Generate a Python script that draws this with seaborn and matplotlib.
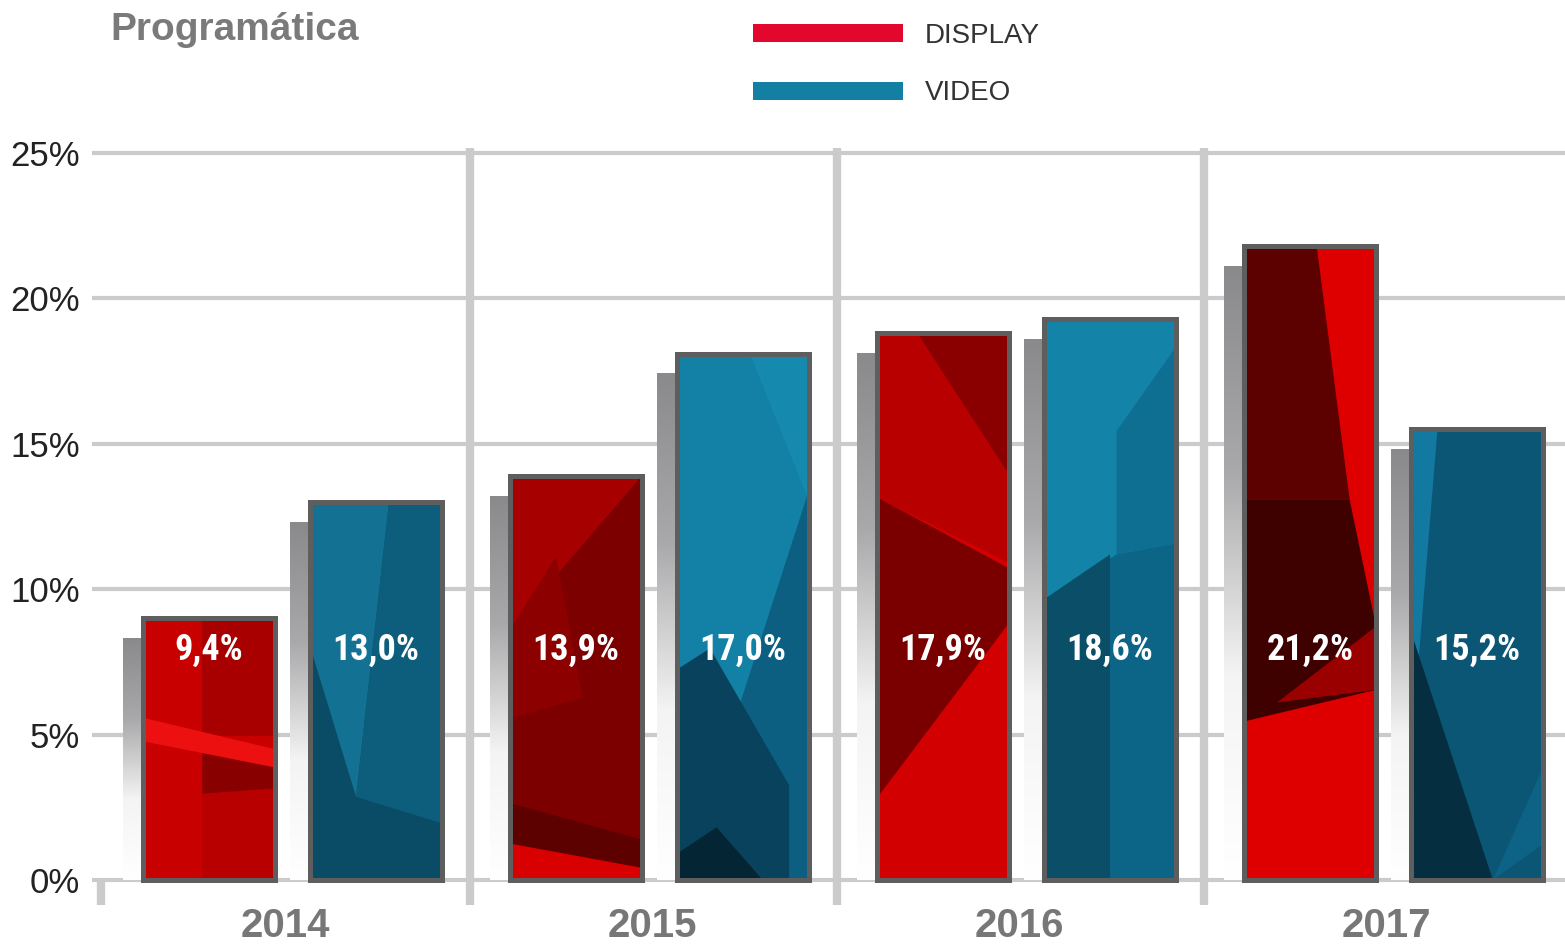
import numpy as np
import pandas as pd
import matplotlib
matplotlib.use("Agg")
import matplotlib.pyplot as plt
import matplotlib.transforms as mtransforms
from matplotlib import font_manager
from matplotlib.patches import Patch, Polygon, Rectangle
from matplotlib.colors import LinearSegmentedColormap
import seaborn as sns

# ---------------- data ----------------
years = ["2014", "2015", "2016", "2017"]
series = ["DISPLAY", "VIDEO"]
display_values = [9.0, 13.9, 18.8, 21.8]
video_values = [13.0, 18.1, 19.3, 15.5]
display_labels = ["9,4%", "13,9%", "17,9%", "21,2%"]
video_labels = ["13,0%", "17,0%", "18,6%", "15,2%"]
y_ticks = [0, 5, 10, 15, 20, 25]
y_tick_labels = ["0%", "5%", "10%", "15%", "20%", "25%"]
title = "Programática"

df = pd.DataFrame({
    "year": years * 2,
    "serie": ["DISPLAY"] * 4 + ["VIDEO"] * 4,
    "value": display_values + video_values,
})
labels = {("DISPLAY", y): l for y, l in zip(years, display_labels)}
labels.update({("VIDEO", y): l for y, l in zip(years, video_labels)})

# ---------------- style ----------------
sns.set_theme(style="white")
plt.rcParams["font.family"] = ["Liberation Sans", "DejaVu Sans"]

# pick a condensed bold face for the value labels if one is installed
entries = font_manager.fontManager.ttflist
names = {f.name for f in entries}
label_font = dict(family=["Roboto", "DejaVu Sans"], size=23, stretch="normal")
for cand in ["Liberation Sans Narrow", "Roboto Condensed", "Noto Sans Condensed",
             "DejaVu Sans Condensed", "Open Sans Condensed"]:
    if cand in names:
        label_font = dict(family=[cand, "DejaVu Sans"], size=26, stretch="normal")
        break
else:
    for f in entries:
        if f.stretch in ("condensed", "semi-condensed", "extra-condensed") and \
                f.name in ("Noto Sans", "DejaVu Sans", "Open Sans", "Roboto", "Inter"):
            label_font = dict(family=[f.name, "DejaVu Sans"], size=26, stretch=f.stretch)
            break

legend_colors = {"DISPLAY": "#e3062d", "VIDEO": "#137fa3"}
base_colors = {
    ("DISPLAY", 0): "#c80000", ("VIDEO", 0): "#0a4c65",
    ("DISPLAY", 1): "#7d0000", ("VIDEO", 1): "#1380a6",
    ("DISPLAY", 2): "#d20000", ("VIDEO", 2): "#0c6586",
    ("DISPLAY", 3): "#de0000", ("VIDEO", 3): "#0b5575",
}
# decorative facets in relative bar coordinates (u across, v up)
facets = {
    ("DISPLAY", 0): [
        ([(0.45, 0.55), (1, 0.55), (1, 1), (0.45, 1)], "#a80000"),
        ([(0.45, 0.0), (1, 0.0), (1, 0.35), (0.45, 0.35)], "#b80000"),
        ([(0.45, 0.33), (1, 0.35), (1, 0.5), (0.45, 0.52)], "#880000"),
        ([(0, 0.62), (1, 0.5), (1, 0.43), (0, 0.53)], "#ec1010"),
    ],
    ("VIDEO", 0): [
        ([(0, 1), (0.6, 1), (0.35, 0.22), (0, 0.62)], "#137293"),
        ([(0.6, 1), (1, 1), (1, 0.15), (0.35, 0.22)], "#0d5d7c"),
    ],
    ("DISPLAY", 1): [
        ([(0, 1), (1, 1), (0, 0.62)], "#a60000"),
        ([(0, 0.62), (0.35, 0.8), (0.55, 0.45), (0, 0.4)], "#8c0000"),
        ([(0, 0.19), (1, 0.1), (1, 0.03), (0, 0.09)], "#5c0000"),
        ([(0, 0.0), (1, 0.0), (1, 0.03), (0, 0.09)], "#d80000"),
    ],
    ("VIDEO", 1): [
        ([(0.55, 1), (1, 1), (1, 0.72)], "#1689ae"),
        ([(1, 0.74), (1, 0.0), (0.3, 0.0), (0.3, 0.2)], "#0c5f80"),
        ([(0, 0.4), (0.25, 0.44), (0.85, 0.18), (0.85, 0.0), (0, 0.0)], "#08425c"),
        ([(0, 0.05), (0.3, 0.1), (0.65, 0.0), (0, 0.0)], "#042634"),
    ],
    ("DISPLAY", 2): [
        ([(0.3, 1), (1, 1), (1, 0.74)], "#8a0000"),
        ([(0, 1), (0.3, 1), (1, 0.74), (1, 0.58), (0, 0.7)], "#b80000"),
        ([(0, 0.7), (1, 0.57), (1, 0.47), (0, 0.15)], "#7a0000"),
    ],
    ("VIDEO", 2): [
        ([(0, 1), (1, 1), (1, 0.6), (0.55, 0.58), (0, 0.5)], "#1383a8"),
        ([(0.55, 0.8), (1, 0.95), (1, 0.6), (0.55, 0.58)], "#0f6f93"),
        ([(0, 0.5), (0.5, 0.58), (0.5, 0.0), (0, 0.0)], "#0a4e68"),
    ],
    ("DISPLAY", 3): [
        ([(0, 1), (0.55, 1), (0.8, 0.6), (0, 0.6)], "#5c0000"),
        ([(0, 0.6), (0.8, 0.6), (1, 0.4), (1, 0.3), (0, 0.25)], "#3f0000"),
        ([(0.25, 0.28), (1, 0.4), (1, 0.3)], "#9a0000"),
    ],
    ("VIDEO", 3): [
        ([(0, 1), (0.2, 1), (0.06, 0.5), (0, 0.5)], "#1479a0"),
        ([(0, 0.55), (0.62, 0.0), (0, 0.0)], "#052f40"),
        ([(0.62, 0.0), (1, 0.25), (1, 0.08)], "#0c6385"),
    ],
}

grid_color = "#cbcbcb"
W, H = 1565, 946

fig = plt.figure(figsize=(W / 100, H / 100), dpi=100)
ax = fig.add_axes([100 / W, 41 / H, 1 - 100 / W, 757 / H])

sns.barplot(
    data=df, x="year", y="value", hue="serie", order=years, hue_order=series,
    palette=legend_colors, saturation=1, width=0.91, gap=0.21,
    legend=False, ax=ax, zorder=3, linewidth=0,
)

# shadow gradient
shadow_cmap = LinearSegmentedColormap.from_list("sh", ["#ffffff", "#f4f4f4", "#a9a9ab", "#8a8a8c"])
grad = np.linspace(0, 1, 256).reshape(-1, 1)

bars = list(ax.patches)
for p in bars:
    x0, w, h = p.get_x(), p.get_width(), p.get_height()
    xc = x0 + w / 2
    i = int(round(xc))
    serie = "DISPLAY" if xc < i else "VIDEO"
    key = (serie, i)
    p.set_facecolor(base_colors[key])
    ax.imshow(grad, extent=[x0 - 0.055, x0, 0, h - 0.7], origin="lower",
              cmap=shadow_cmap, aspect="auto", zorder=2)
    for pts, col in facets[key]:
        poly = Polygon([(x0 + u * w, v * h) for u, v in pts], closed=True,
                       facecolor=col, edgecolor="none", zorder=3.5)
        ax.add_patch(poly)
        poly.set_clip_path(p)
    ax.add_patch(Rectangle((x0, 0), w, h, fill=False, edgecolor="#5e5e5e",
                           linewidth=3.6, zorder=4, joinstyle="miter"))
    ax.text(xc, 7.9, labels[(serie, years[i])], ha="center", va="center",
            color="white", fontsize=label_font["size"], fontweight="bold",
            family=label_font["family"], fontstretch=label_font["stretch"], zorder=5)

# axes styling
ax.set_xlim(-0.524, 3.467)
ax.set_ylim(-0.86, 25.17)
for s in ax.spines.values():
    s.set_visible(False)
ax.set_yticks(y_ticks)
ax.set_yticklabels(y_tick_labels, fontsize=25, color="#222222")
ax.tick_params(axis="y", length=0, pad=14.5)
ax.set_xticks([])
ax.set_xlabel("")
ax.set_ylabel("")
for t in y_ticks:
    ax.plot([-0.545, 3.467], [t, t], color=grid_color, lw=3, zorder=1,
            clip_on=False, solid_capstyle="butt")

# vertical separators
for i in range(3):
    ax.plot([i + 0.484, i + 0.484], [-0.86, 25.17], color=grid_color, lw=6,
            zorder=1, clip_on=False, solid_capstyle="butt")
ax.plot([-0.52, -0.52], [-0.86, 0.05], color=grid_color, lw=6, zorder=1,
        clip_on=False, solid_capstyle="butt")

# year labels (kept fully inside the bottom edge)
trans = mtransforms.blended_transform_factory(ax.transData, fig.transFigure)
for i, y in enumerate(years):
    ax.text(i - 0.02, 1.5 / H, y, transform=trans, ha="center", va="bottom",
            fontsize=29, fontweight="bold", color="#777777")

# title
fig.text(110 / W, 1 - 12 / H, title, ha="left", va="top", fontsize=28,
         fontweight="bold", color="#7a7a7a")

# legend
handles = [Patch(facecolor=legend_colors[s], edgecolor="none", label=s) for s in series]
fig.legend(handles=handles, loc="upper left", bbox_to_anchor=(753 / W, 1 - 23 / H),
           frameon=False, fontsize=20, handlelength=5.4, handleheight=0.61,
           handletextpad=0.8, labelspacing=1.13, borderpad=0, borderaxespad=0,
           labelcolor="#333333")

fig.savefig("out.png", dpi=100)
